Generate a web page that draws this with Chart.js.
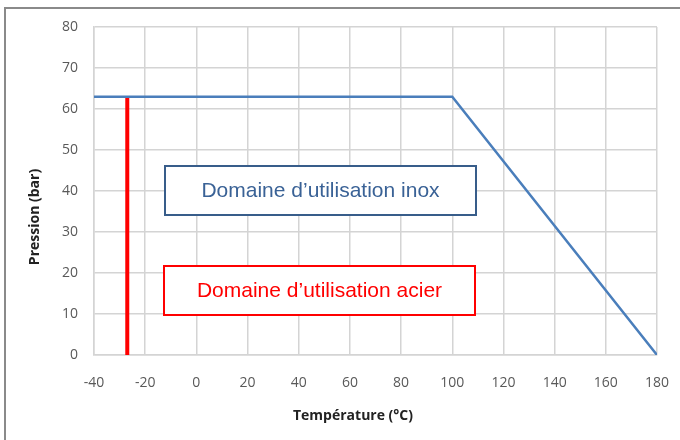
<!DOCTYPE html>
<html>
<head>
<meta charset="utf-8">
<script src="https://cdn.jsdelivr.net/npm/chart.js@4/dist/chart.umd.min.js"></script>
<style>
  html, body { margin:0; padding:0; background:#fff; }
  #wrap { width:680px; height:440px; position:relative; }
</style>
</head>
<body>
<div id="wrap"><canvas id="c" width="680" height="440"></canvas></div>
<script>
// courbe inox (pression max selon température)
const inoxTemp = [-40, 100, 180];
const inoxPression = [63, 63, 0];
// limite acier
const acierTemp = [-27, -27];
const acierPression = [0, 63];
const xTicks = [-40, -20, 0, 20, 40, 60, 80, 100, 120, 140, 160, 180];
const yTicks = [0, 10, 20, 30, 40, 50, 60, 70, 80];
const labelInox = 'Domaine d\u2019utilisation inox';
const labelAcier = 'Domaine d\u2019utilisation acier';

const BLUE = '#4a7ebb', RED = '#ff0000', GRID = '#d4d4d4', TXT = '#595959';

const decor = {
  id: 'decor',
  beforeDraw(chart) {
    const ctx = chart.ctx;
    ctx.save();
    ctx.fillStyle = '#fff';
    ctx.fillRect(0, 0, chart.width, chart.height);
    ctx.strokeStyle = '#8a8a8a';
    ctx.lineWidth = 2;
    ctx.beginPath();
    ctx.moveTo(5, 440); ctx.lineTo(5, 8); ctx.lineTo(680, 8);
    ctx.stroke();
    ctx.restore();
  },
  afterDatasetsDraw(chart) {
    const ctx = chart.ctx;
    ctx.save();
    const box = (x1, y1, x2, y2, col, txtCol, txt) => {
      ctx.fillStyle = '#fff';
      ctx.fillRect(x1, y1, x2 - x1, y2 - y1);
      ctx.strokeStyle = col; ctx.lineWidth = 2;
      ctx.strokeRect(x1, y1, x2 - x1, y2 - y1);
      ctx.fillStyle = txtCol;
      ctx.font = '21px "Liberation Sans Narrow", "Liberation Sans", Arial';
      ctx.textAlign = 'center'; ctx.textBaseline = 'middle';
      ctx.fillText(txt, (x1 + x2) / 2, (y1 + y2) / 2 + 1);
    };
    box(165, 166, 476, 215, '#385d8a', '#3a6296', labelInox);
    box(164, 266, 475, 315, RED, RED, labelAcier);

    // titres des axes
    ctx.fillStyle = '#222';
    ctx.font = 'bold 14px "Open Sans", Arial';
    ctx.textAlign = 'center'; ctx.textBaseline = 'middle';
    ctx.fillText('Température (°C)', 353, 416);
    ctx.translate(35, 217);
    ctx.rotate(-Math.PI / 2);
    ctx.fillText('Pression (bar)', 0, 0);
    ctx.restore();
  }
};

new Chart(document.getElementById('c'), {
  type: 'scatter',
  data: {
    datasets: [
      { label: 'inox', data: inoxTemp.map((t, i) => ({ x: t, y: inoxPression[i] })),
        showLine: true, borderColor: BLUE, borderWidth: 2.5, pointRadius: 0, tension: 0 },
      { label: 'acier', data: acierTemp.map((t, i) => ({ x: t, y: acierPression[i] })),
        showLine: true, borderColor: RED, borderWidth: 4, pointRadius: 0, tension: 0 },
    ]
  },
  options: {
    responsive: false, animation: false, devicePixelRatio: 1,
    layout: { padding: { left: 0, right: 23, top: 27, bottom: 0 } },
    plugins: { legend: { display: false }, tooltip: { enabled: false } },
    scales: {
      x: {
        type: 'linear', min: -40, max: 180,
        afterBuildTicks: s => { s.ticks = xTicks.map(v => ({ value: v })); },
        afterFit: s => { s.height = 85; s.paddingLeft = 0; s.paddingRight = 0; },
        grid: { color: GRID, lineWidth: 1.5, drawTicks: false },
        border: { color: GRID, width: 1.5 },
        ticks: { color: TXT, padding: 20, maxRotation: 0, font: { family: '"Open Sans", Arial', size: 14 } },
      },
      y: {
        type: 'linear', min: 0, max: 80,
        afterBuildTicks: s => { s.ticks = yTicks.map(v => ({ value: v })); },
        afterFit: s => { s.width = 94; s.paddingTop = 0; s.paddingBottom = 0; },
        grid: { color: GRID, lineWidth: 1.5, drawTicks: false },
        border: { color: GRID, width: 1.5 },
        ticks: { color: TXT, padding: 16, font: { family: '"Open Sans", Arial', size: 14 } },
      }
    }
  },
  plugins: [decor]
});
</script>
</body>
</html>
